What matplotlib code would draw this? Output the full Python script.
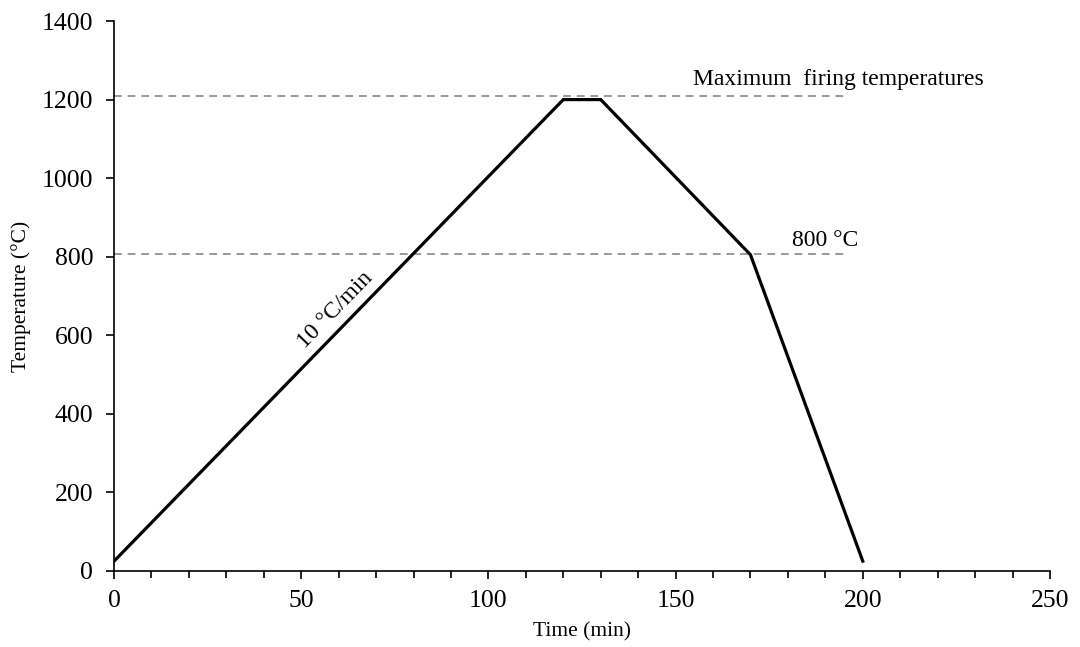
import matplotlib
matplotlib.use('Agg')
import matplotlib.pyplot as plt
from matplotlib.ticker import MultipleLocator

plt.rcParams['font.family'] = ['Liberation Serif', 'DejaVu Serif']

# Firing schedule
time_min = [0, 120, 130, 170, 200]
temp_c   = [25, 1200, 1200, 805, 25]

# Reference levels
max_level = 1210
cool_level = 807
ref_x = [0, 196]

fig = plt.figure(figsize=(10.8, 6.47), dpi=100)
ax = fig.add_axes([0.1056, 0.1175, 0.8666, 0.85])

ax.plot(ref_x, [max_level, max_level], color='#999999', lw=1.4, ls=(0, (4, 3)))
ax.plot(ref_x, [cool_level, cool_level], color='#999999', lw=1.4, ls=(0, (4, 3)))
ax.plot(time_min, temp_c, color='black', lw=2.3, solid_joinstyle='miter')

ax.text(154.6, 1250, 'Maximum  firing temperatures', fontsize=17, va='center', ha='left')
ax.text(181, 842, '800 °C', fontsize=17, va='center', ha='left')
ax.text(59, 664, '10 °C/min', fontsize=17, va='center', ha='center',
        rotation=45.8, rotation_mode='anchor')

ax.set_xlim(0, 250)
ax.set_ylim(0, 1400)
ax.xaxis.set_major_locator(MultipleLocator(50))
ax.xaxis.set_minor_locator(MultipleLocator(10))
ax.yaxis.set_major_locator(MultipleLocator(200))

for s in ['top', 'right']:
    ax.spines[s].set_visible(False)
for s in ['left', 'bottom']:
    ax.spines[s].set_linewidth(1.2)

ax.tick_params(axis='both', which='major', direction='out', length=6, width=1.2, labelsize=18.5)
ax.tick_params(axis='x', which='minor', direction='out', length=5, width=1.2)
ax.tick_params(axis='x', pad=8)
ax.tick_params(axis='y', pad=9)

ax.set_xlabel('Time (min)', fontsize=15.5, labelpad=7)
ax.set_ylabel('Temperature (°C)', fontsize=15.5, labelpad=8)

fig.savefig('out.png', dpi=100)
